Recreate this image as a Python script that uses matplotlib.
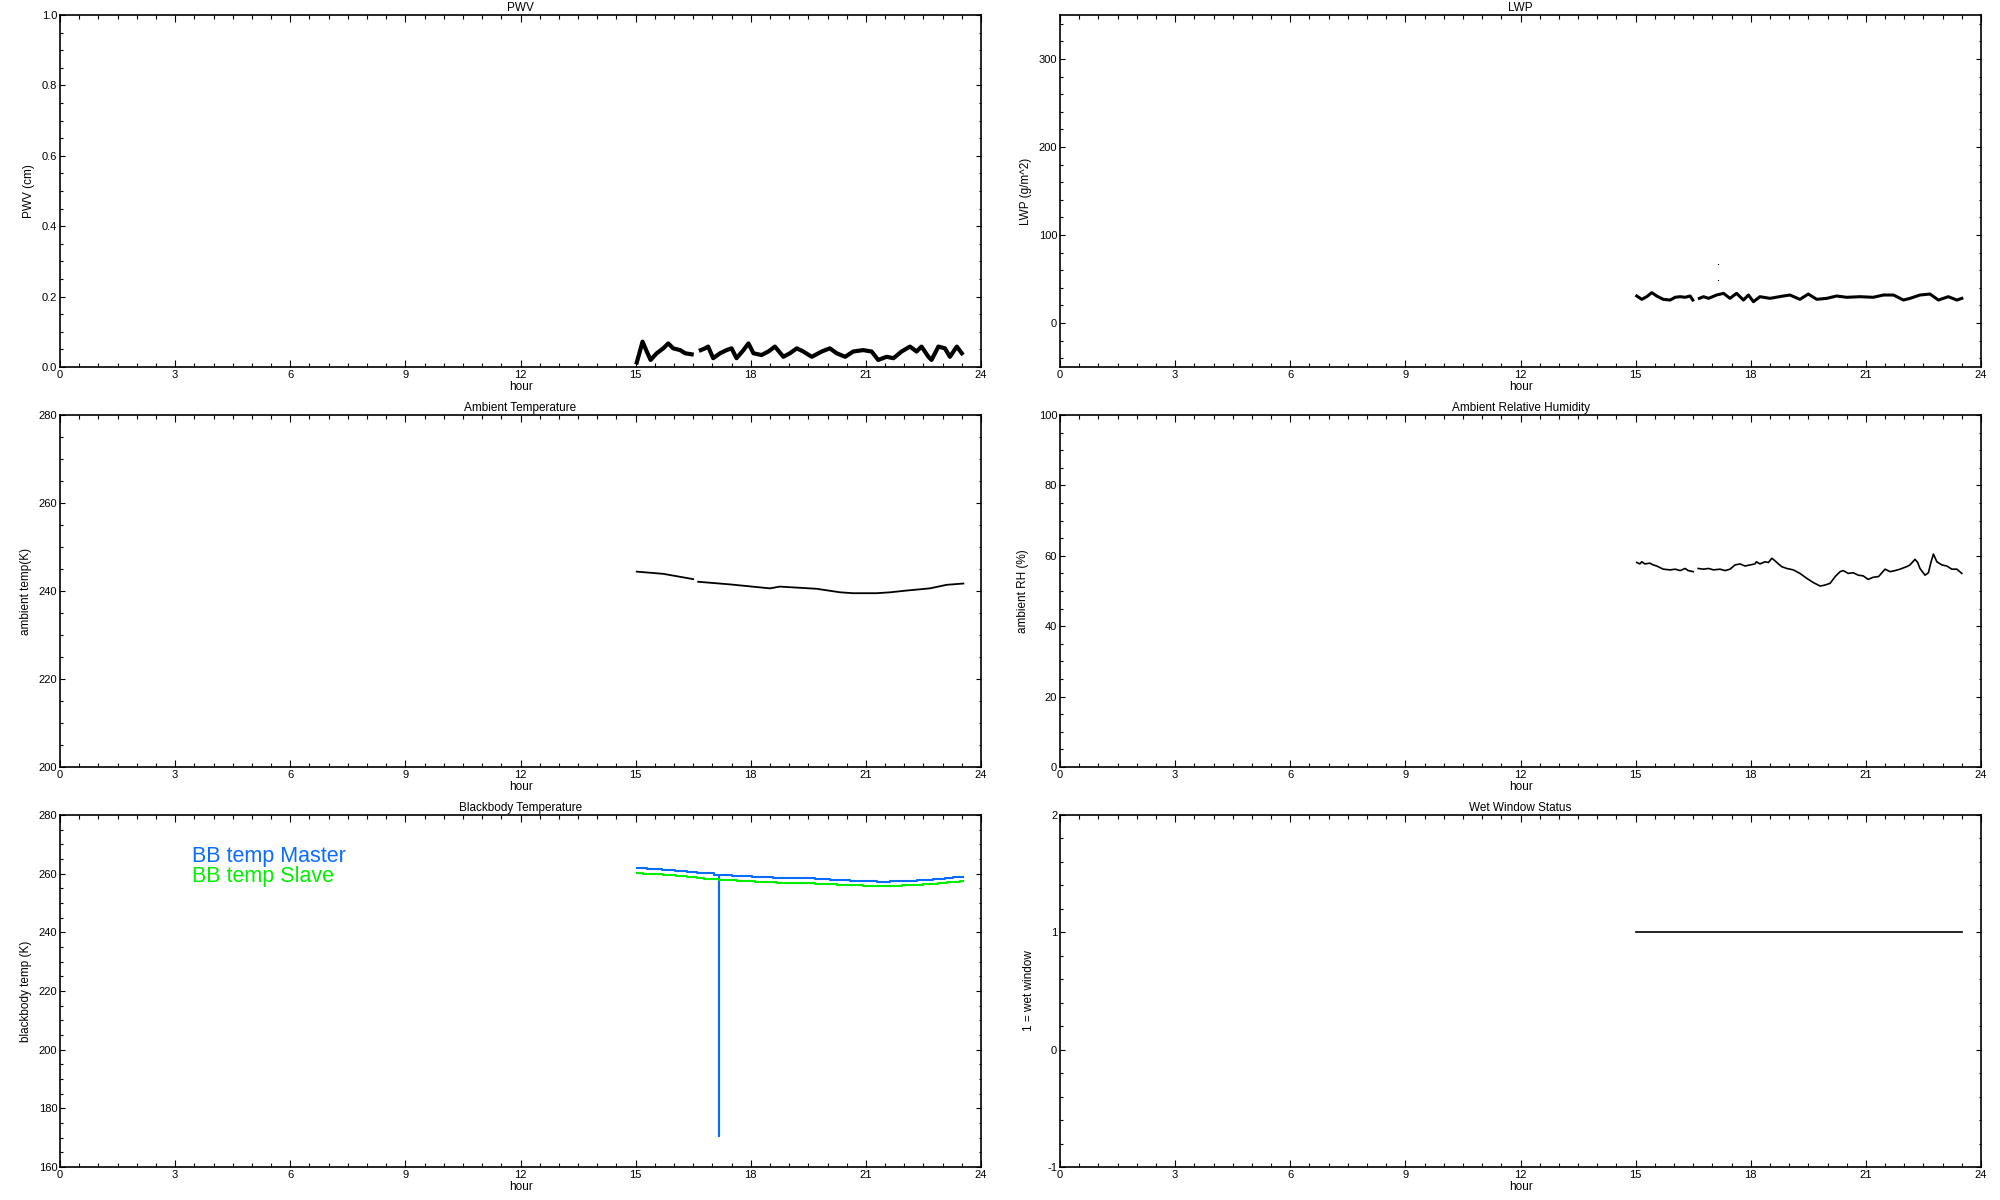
import numpy as np
import matplotlib
matplotlib.use("Agg")
import matplotlib.pyplot as plt
from matplotlib.ticker import MultipleLocator, FormatStrFormatter

plt.rcParams['font.family'] = ['Liberation Sans', 'DejaVu Sans']
plt.rcParams['axes.unicode_minus'] = False

nan = np.nan

# ---------------- data ----------------
hour_ticks = list(range(0, 25, 3))

pwv_hour = [15.03, 15.11, 15.18, 15.29, 15.39, 15.55, 15.72, 15.85, 15.98, 16.16,
            16.29, 16.46, nan, 16.70, 16.81, 16.89, 17.02, 17.20, 17.37, 17.50,
            17.63, 17.81, 17.94, 18.07, 18.28, 18.46, 18.63, 18.85, 19.02, 19.20,
            19.37, 19.59, 19.85, 20.06, 20.24, 20.46, 20.67, 20.93, 21.15, 21.32,
            21.54, 21.72, 21.93, 22.15, 22.32, 22.45, 22.63, 22.71, 22.89, 23.06,
            23.19, 23.37, 23.50]
pwv = [0.013, 0.044, 0.072, 0.044, 0.020, 0.039, 0.053, 0.067, 0.053, 0.048,
       0.039, 0.036, nan, 0.048, 0.053, 0.058, 0.025, 0.039, 0.048, 0.053,
       0.025, 0.048, 0.067, 0.039, 0.034, 0.044, 0.058, 0.029, 0.039, 0.053,
       0.044, 0.029, 0.044, 0.053, 0.039, 0.029, 0.044, 0.048, 0.044, 0.020,
       0.029, 0.025, 0.044, 0.058, 0.044, 0.058, 0.029, 0.020, 0.058, 0.053,
       0.029, 0.058, 0.039]

lwp_hour = [15.03, 15.16, 15.29, 15.42, 15.55, 15.72, 15.90, 16.03, 16.16, 16.29,
            16.42, 16.49, nan, 16.66, 16.77, 16.90, 17.11, 17.29, 17.46, 17.63,
            17.81, 17.94, 18.07, 18.24, 18.50, 18.85, 19.02, 19.28, 19.50, 19.72,
            19.98, 20.24, 20.50, 20.85, 21.19, 21.46, 21.72, 21.98, 22.15, 22.41,
            22.67, 22.89, 23.15, 23.37, 23.50]
lwp = [30.7, 26.9, 29.9, 34.5, 30.7, 26.9, 26.1, 29.2, 29.9, 29.2,
       30.7, 26.1, nan, 28.0, 29.9, 28.0, 31.8, 33.7, 28.0, 33.7,
       26.1, 31.8, 24.2, 29.9, 28.0, 30.7, 31.8, 26.9, 32.9, 26.9,
       28.0, 30.7, 29.2, 29.9, 29.2, 31.8, 31.8, 26.1, 28.0, 31.8,
       32.9, 26.1, 29.9, 26.1, 28.0]
lwp_out_hour = [17.15, 17.15]
lwp_out = [67.0, 49.0]

temp_hour = [15.03, 15.72, 16.50, nan, 16.63, 17.46, 18.50, 18.76, 19.72, 20.33,
             20.67, 21.28, 21.63, 22.06, 22.67, 23.10, 23.54]
temp = [244.4, 243.9, 242.7, nan, 242.1, 241.5, 240.6, 241.0, 240.5, 239.7,
        239.5, 239.5, 239.7, 240.1, 240.6, 241.4, 241.7]

rh_hour = [15.03, 15.11, 15.16, 15.24, 15.37, 15.46, 15.55, 15.72, 15.90, 16.03,
           16.16, 16.29, 16.37, 16.50, nan,
           16.63, 16.77, 16.90, 17.03, 17.20, 17.33, 17.46, 17.59, 17.72, 17.85,
           17.98, 18.11, 18.15, 18.24, 18.37, 18.46, 18.55, 18.63, 18.72, 18.81,
           18.94, 19.11, 19.28, 19.46, 19.63, 19.81, 19.94, 20.07, 20.20, 20.33,
           20.41, 20.54, 20.67, 20.80, 20.93, 21.06, 21.19, 21.33, 21.50, 21.63,
           21.76, 21.89, 22.06, 22.15, 22.28, 22.35, 22.41, 22.54, 22.63, 22.69,
           22.76, 22.85, 22.98, 23.11, 23.24, 23.37, 23.50]
rh = [58.1, 57.7, 58.3, 57.7, 57.9, 57.4, 57.1, 56.2, 56.0, 56.2,
      55.8, 56.4, 55.8, 55.5, nan,
      56.4, 56.2, 56.4, 56.0, 56.2, 55.8, 56.2, 57.4, 57.7, 57.1,
      57.4, 57.7, 58.3, 57.7, 58.3, 58.1, 59.3, 58.6, 57.7, 56.9,
      56.4, 56.0, 55.0, 53.6, 52.4, 51.4, 51.7, 52.2, 54.1, 55.5,
      55.8, 55.0, 55.2, 54.5, 54.3, 53.3, 53.9, 54.1, 56.2, 55.5,
      55.8, 56.2, 56.9, 57.4, 59.0, 58.1, 56.4, 54.5, 55.2, 57.9,
      60.5, 58.3, 57.4, 57.1, 56.2, 56.2, 55.0]

bbm_hour = [15.03, 15.29, 15.68, 16.03, 16.33, 16.59, 17.03, 17.16, 17.17, 17.50,
            18.02, 18.59, 19.67, 20.07, 20.59, 21.28, 21.63, 22.32, 22.76, 23.06,
            23.28, 23.52]
bb_master = [261.8, 261.5, 261.1, 260.8, 260.5, 260.1, 259.7, 170.7, 259.7, 259.2,
             258.9, 258.5, 258.2, 257.7, 257.4, 257.2, 257.4, 257.7, 258.2, 258.5,
             258.8, 258.8]
bbs_hour = [15.03, 15.18, 15.72, 16.05, 16.35, 16.59, 16.78, 17.16, 17.63, 18.11,
            18.68, 19.67, 20.26, 20.93, 21.93, 22.50, 22.89, 23.11, 23.45, 23.52]
bb_slave = [260.1, 259.9, 259.4, 259.1, 258.8, 258.4, 258.1, 257.7, 257.5, 257.1,
            256.7, 256.4, 256.0, 255.7, 256.0, 256.4, 256.7, 257.1, 257.4, 257.4]

wet_hour = [15.02, 23.50]
wet = [1, 1]

BLUE = '#0A6CFF'
GREEN = '#00F000'

# ---------------- layout ----------------
fig = plt.figure(figsize=(20, 12), dpi=100)
W, H = 2000.0, 1200.0
lefts = [60, 1060]
tops = [15, 415, 815]
pw, ph = 921, 352


def make_ax(col, row):
    ax = fig.add_axes([lefts[col] / W, 1 - (tops[row] + ph) / H, pw / W, ph / H])
    ax.set_xlim(0, 24)
    ax.set_xticks(hour_ticks)
    ax.xaxis.set_minor_locator(MultipleLocator(0.5))
    ax.tick_params(which='both', direction='in', top=True, right=True,
                   labelsize=8, width=0.8, colors='black')
    ax.tick_params(axis='x', which='major', length=5.2, pad=2)
    ax.tick_params(axis='x', which='minor', length=3.0)
    ax.tick_params(axis='y', which='major', length=3.8, pad=2)
    ax.tick_params(axis='y', which='minor', length=1.8)
    for s in ax.spines.values():
        s.set_linewidth(1.2)
    ax.set_xlabel('hour', fontsize=8.5, labelpad=1)
    return ax


def style_title(ax, t):
    ax.set_title(t, fontsize=8.5, pad=3)


# PWV
ax = make_ax(0, 0)
style_title(ax, 'PWV')
ax.plot(pwv_hour, pwv, color='black', lw=3.0, solid_joinstyle='round')
ax.set_ylim(0, 1.0)
ax.yaxis.set_major_locator(MultipleLocator(0.2))
ax.yaxis.set_minor_locator(MultipleLocator(0.05))
ax.yaxis.set_major_formatter(FormatStrFormatter('%.1f'))
ax.set_ylabel('PWV (cm)', fontsize=8.5, labelpad=5)

# LWP
ax = make_ax(1, 0)
style_title(ax, 'LWP')
ax.plot(lwp_hour, lwp, color='black', lw=2.2, solid_joinstyle='round')
ax.plot(lwp_out_hour, lwp_out, ls='none', marker='s', ms=0.8, mew=0, color='black')
ax.set_ylim(-50, 350)
ax.set_yticks([0, 100, 200, 300])
ax.yaxis.set_minor_locator(MultipleLocator(20))
ax.set_ylabel('LWP (g/m^2)', fontsize=8.5, labelpad=5)

# Ambient temperature
ax = make_ax(0, 1)
style_title(ax, 'Ambient Temperature')
ax.plot(temp_hour, temp, color='black', lw=1.3)
ax.set_ylim(200, 280)
ax.yaxis.set_major_locator(MultipleLocator(20))
ax.yaxis.set_minor_locator(MultipleLocator(5))
ax.set_ylabel('ambient temp(K)', fontsize=8.5, labelpad=5)

# Ambient RH
ax = make_ax(1, 1)
style_title(ax, 'Ambient Relative Humidity')
ax.plot(rh_hour, rh, color='black', lw=1.2)
ax.set_ylim(0, 100)
ax.yaxis.set_major_locator(MultipleLocator(20))
ax.yaxis.set_minor_locator(MultipleLocator(5))
ax.set_ylabel('ambient RH (%)', fontsize=8.5, labelpad=7)

# Blackbody temperature
ax = make_ax(0, 2)
style_title(ax, 'Blackbody Temperature')
ax.plot(bbm_hour, bb_master, color=BLUE, lw=1.5, drawstyle='steps-post')
ax.plot(bbs_hour, bb_slave, color=GREEN, lw=1.5, drawstyle='steps-post')
ax.set_ylim(160, 280)
ax.yaxis.set_major_locator(MultipleLocator(20))
ax.yaxis.set_minor_locator(MultipleLocator(5))
ax.set_ylabel('blackbody temp (K)', fontsize=8.5, labelpad=5)
ax.text(3.43, 265.7, 'BB temp Master', color=BLUE, fontsize=15.5, va='center', ha='left')
ax.text(3.43, 258.9, 'BB temp Slave', color=GREEN, fontsize=15.5, va='center', ha='left')

# Wet window
ax = make_ax(1, 2)
style_title(ax, 'Wet Window Status')
ax.plot(wet_hour, wet, color='black', lw=1.2)
ax.set_ylim(-1, 2)
ax.yaxis.set_major_locator(MultipleLocator(1))
ax.yaxis.set_minor_locator(MultipleLocator(0.2))
ax.set_ylabel('1 = wet window', fontsize=8.5, labelpad=9)

fig.savefig('out.png', dpi=100, facecolor='white')
